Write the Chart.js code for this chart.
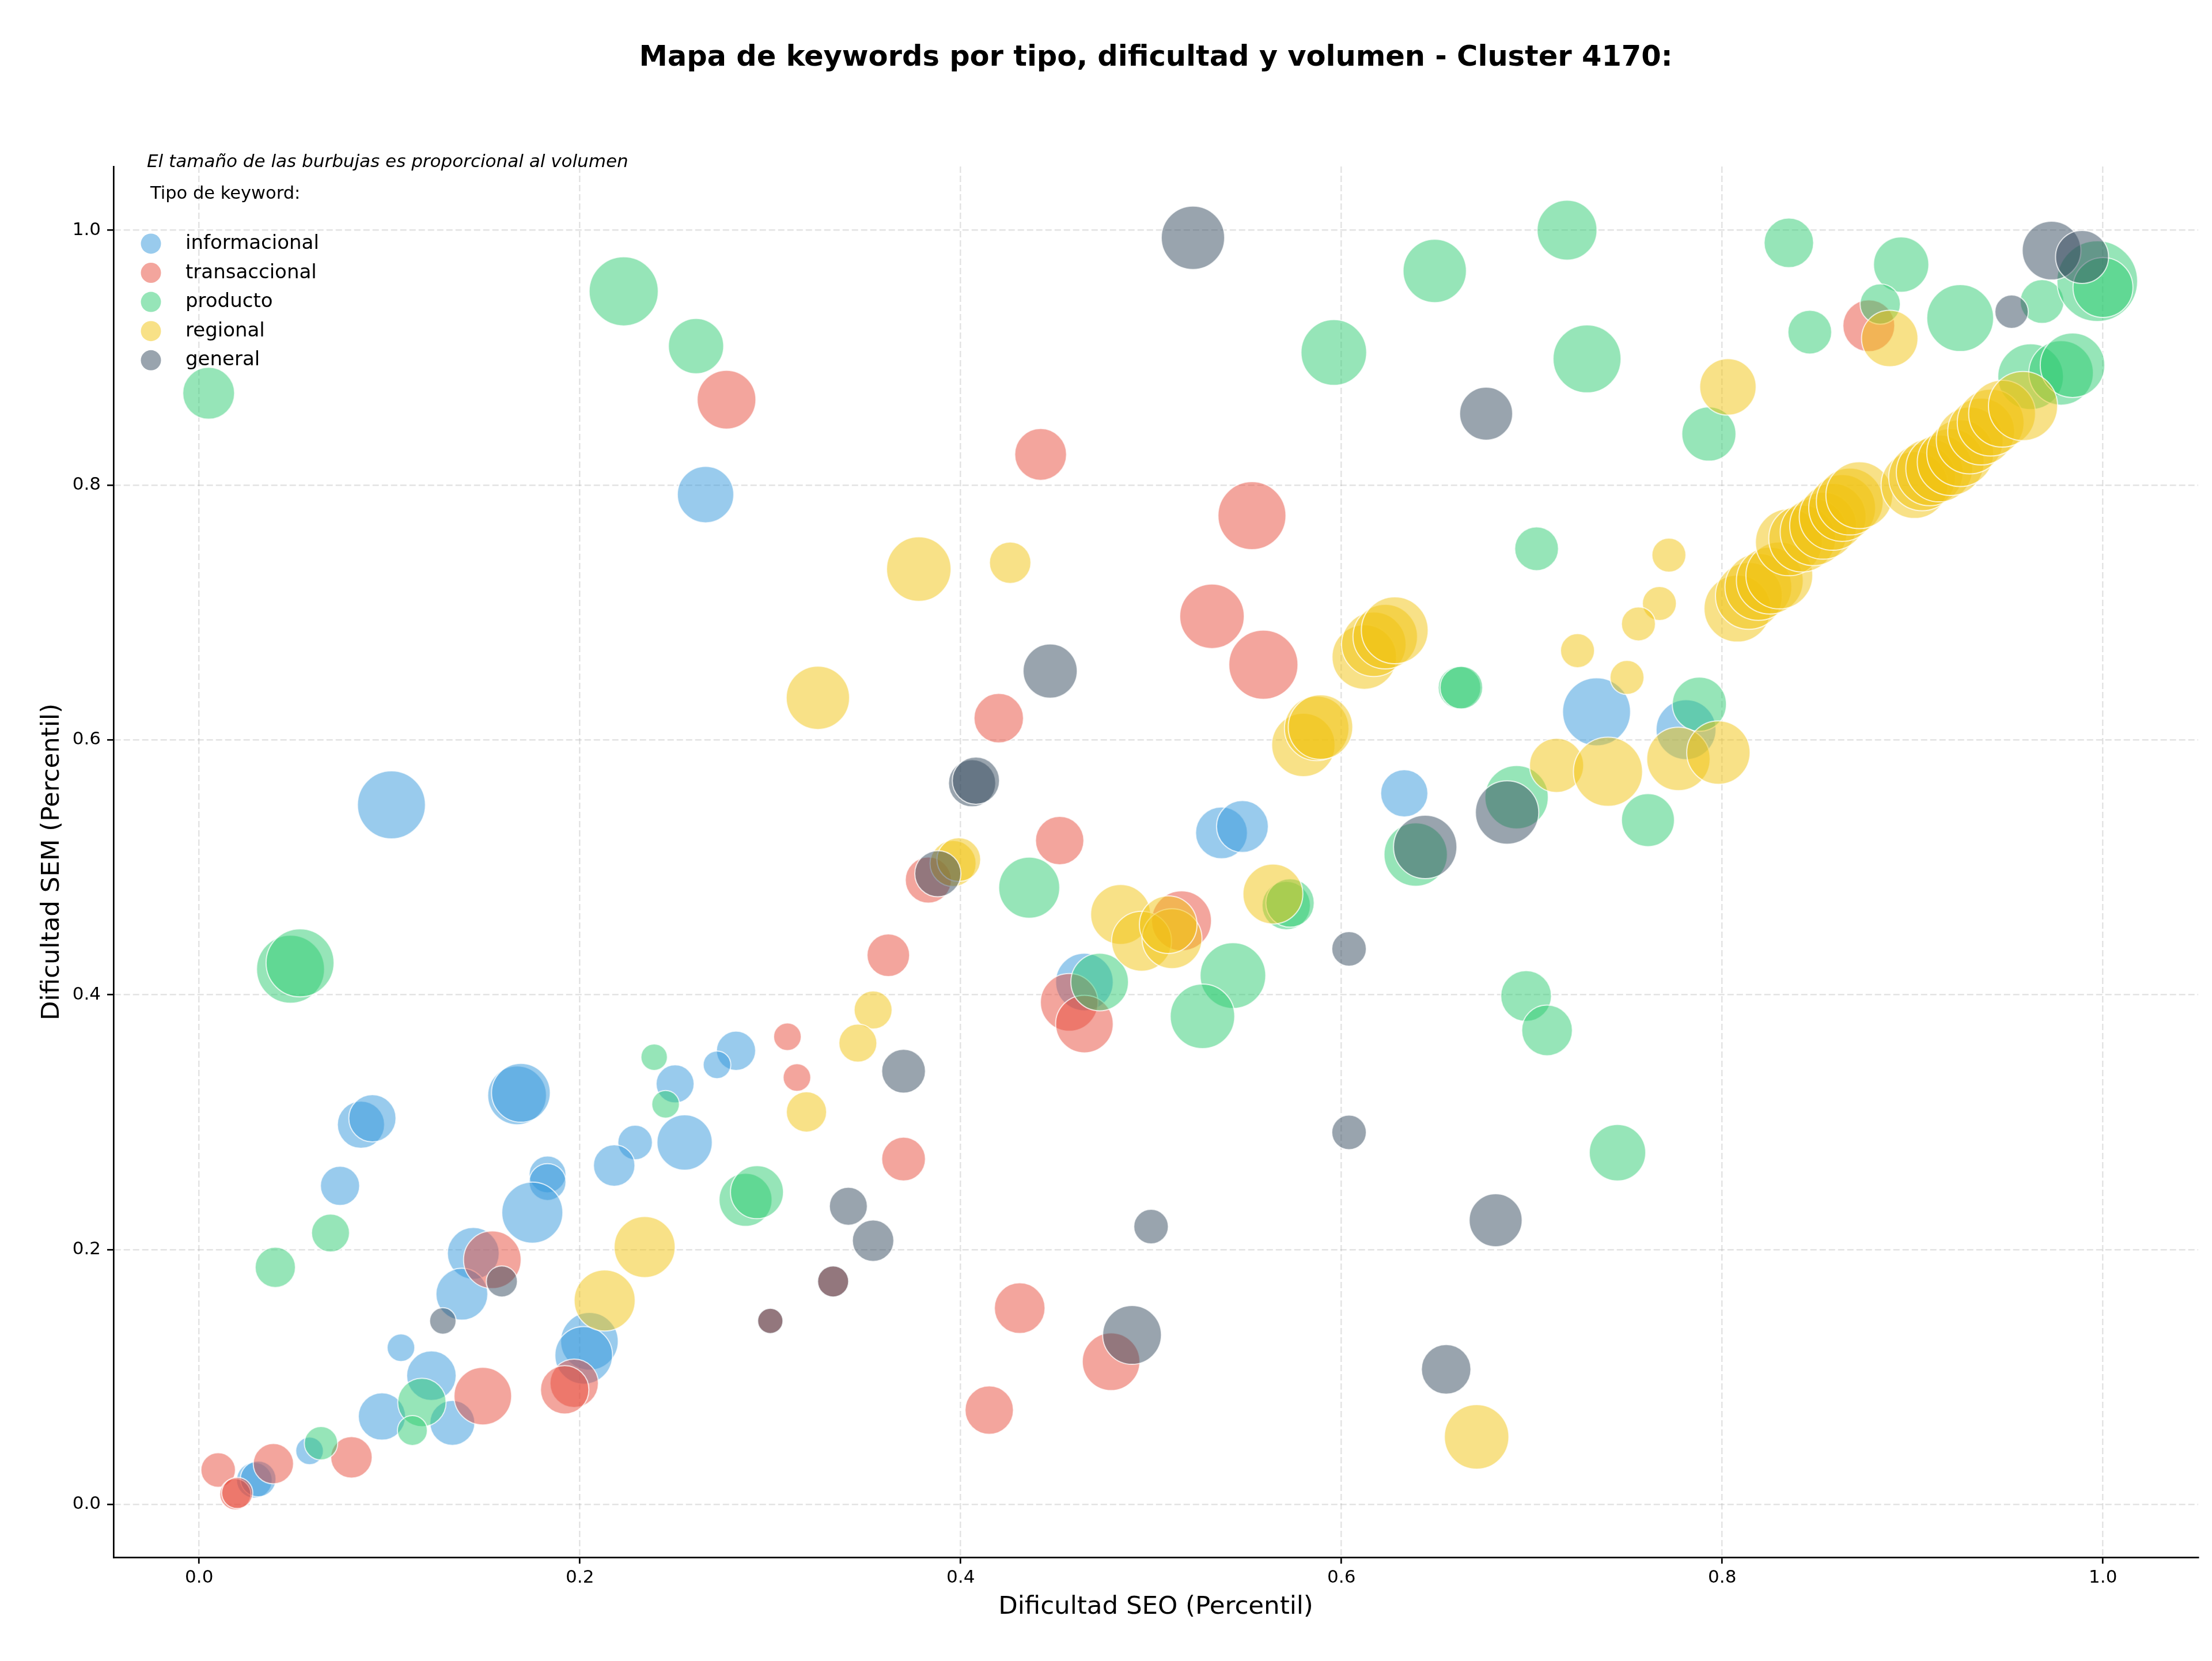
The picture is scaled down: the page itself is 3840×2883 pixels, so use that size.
<!DOCTYPE html>
<html>
<head>
<meta charset="utf-8">
<title>Mapa de keywords - Cluster 4170</title>
<script src="https://cdn.jsdelivr.net/npm/chart.js@4.4.0/dist/chart.umd.min.js"></script>
<style>
  body { margin: 0; background: #fff; }
  #wrap { width: 3840px; height: 2883px; }
</style>
</head>
<body>
<div id="wrap"><canvas id="mapa" width="3840" height="2883"></canvas></div>
<script>
// --- datos ---
const tipos = ['informacional', 'transaccional', 'producto', 'regional', 'general'];
const colores = ['52,152,219', '231,76,60', '46,204,113', '241,196,15', '52,73,94'];
const xTicks = [0.0, 0.2, 0.4, 0.6, 0.8, 1.0];
const yTicks = [0.0, 0.2, 0.4, 0.6, 0.8, 1.0];

const infoSEO = [0.101, 0.266, 0.167, 0.169, 0.085, 0.091, 0.074, 0.282, 0.272, 0.250, 0.229, 0.218, 0.255, 0.183, 0.183, 0.175, 0.144, 0.138, 0.106, 0.205, 0.202, 0.122, 0.133, 0.096, 0.058, 0.029, 0.031, 0.465, 0.537, 0.548, 0.633, 0.734, 0.781];
const infoSEM = [0.549, 0.7925, 0.321, 0.323, 0.298, 0.303, 0.250, 0.356, 0.345, 0.330, 0.284, 0.266, 0.284, 0.259, 0.253, 0.229, 0.197, 0.165, 0.123, 0.128, 0.117, 0.101, 0.064, 0.069, 0.042, 0.019, 0.020, 0.410, 0.527, 0.532, 0.558, 0.622, 0.608];
const infoVol = [870, 600, 650, 650, 420, 420, 290, 290, 144, 272, 225, 324, 576, 256, 256, 702, 506, 506, 144, 625, 625, 462, 380, 420, 144, 240, 240, 625, 506, 506, 420, 870, 676];

const transSEO = [0.277, 0.442, 0.553, 0.532, 0.559, 0.420, 0.452, 0.383, 0.362, 0.309, 0.314, 0.370, 0.333, 0.300, 0.154, 0.149, 0.197, 0.192, 0.080, 0.039, 0.010, 0.019, 0.020, 0.516, 0.457, 0.465, 0.431, 0.479, 0.415, 0.877];
const transSEM = [0.867, 0.824, 0.776, 0.697, 0.659, 0.617, 0.521, 0.490, 0.431, 0.367, 0.335, 0.271, 0.175, 0.144, 0.192, 0.085, 0.095, 0.090, 0.037, 0.032, 0.027, 0.008, 0.009, 0.458, 0.394, 0.377, 0.154, 0.112, 0.074, 0.925];
const transVol = [650, 506, 870, 784, 900, 462, 441, 400, 342, 144, 144, 361, 182, 121, 625, 625, 441, 441, 324, 306, 225, 182, 182, 676, 625, 625, 484, 625, 441, 506];

const prodSEO = [0.005, 0.223, 0.261, 0.596, 0.649, 0.7185, 0.729, 0.7025, 0.662, 0.663, 0.048, 0.053, 0.239, 0.245, 0.287, 0.293, 0.069, 0.040, 0.117, 0.112, 0.064, 0.436, 0.473, 0.543, 0.527, 0.571, 0.573, 0.639, 0.692, 0.761, 0.697, 0.708, 0.745, 0.788, 0.793, 0.835, 0.894, 0.883, 0.846, 0.925, 0.968, 0.997, 1.000, 0.962, 0.978, 0.984];
const prodSEM = [0.872, 0.952, 0.909, 0.904, 0.968, 1.000, 0.899, 0.750, 0.641, 0.641, 0.420, 0.425, 0.351, 0.314, 0.239, 0.245, 0.213, 0.186, 0.080, 0.058, 0.048, 0.484, 0.410, 0.415, 0.383, 0.470, 0.472, 0.510, 0.555, 0.537, 0.399, 0.372, 0.276, 0.628, 0.840, 0.990, 0.973, 0.942, 0.920, 0.931, 0.944, 0.960, 0.955, 0.885, 0.888, 0.894];
const prodVol = [506, 900, 576, 812, 756, 676, 870, 361, 342, 342, 870, 870, 132, 144, 529, 529, 272, 306, 441, 169, 210, 702, 625, 812, 784, 441, 441, 756, 756, 529, 484, 484, 600, 552, 552, 462, 576, 306, 361, 841, 361, 1225, 676, 812, 784, 784];

const regSEO = [0.378, 0.426, 0.325, 0.396, 0.399, 0.354, 0.346, 0.319, 0.234, 0.213, 0.484, 0.495, 0.511, 0.509, 0.564, 0.612, 0.617, 0.623, 0.628, 0.580, 0.587, 0.589, 0.671, 0.772, 0.767, 0.756, 0.724, 0.750, 0.713, 0.740, 0.777, 0.798, 0.803, 0.888,
  0.808, 0.814, 0.819, 0.825, 0.830, 0.835, 0.842, 0.848, 0.853, 0.858, 0.863, 0.867, 0.872, 0.901, 0.905, 0.909, 0.914, 0.920, 0.925, 0.930, 0.936, 0.941, 0.947, 0.958];
const regSEM = [0.734, 0.739, 0.633, 0.503, 0.506, 0.388, 0.362, 0.308, 0.202, 0.160, 0.463, 0.442, 0.444, 0.455, 0.479, 0.665, 0.675, 0.681, 0.686, 0.596, 0.609, 0.610, 0.053, 0.745, 0.707, 0.691, 0.670, 0.649, 0.580, 0.575, 0.585, 0.590, 0.877, 0.915,
  0.703, 0.713, 0.720, 0.725, 0.729, 0.755, 0.758, 0.763, 0.768, 0.775, 0.782, 0.787, 0.792, 0.800, 0.806, 0.810, 0.813, 0.818, 0.825, 0.835, 0.842, 0.849, 0.856, 0.862];
const regVol = [784, 324, 756, 400, 361, 272, 272, 306, 702, 702, 676, 676, 676, 625, 676, 784, 784, 784, 841, 756, 784, 784, 784, 218, 218, 218, 218, 218, 552, 900, 756, 756, 600, 600,
  841, 841, 841, 841, 841, 841, 841, 841, 841, 841, 841, 841, 841, 841, 841, 841, 841, 841, 841, 841, 841, 841, 841, 900];

const genSEO = [0.522, 0.676, 0.447, 0.406, 0.408, 0.388, 0.370, 0.341, 0.354, 0.333, 0.300, 0.159, 0.128, 0.490, 0.500, 0.604, 0.604, 0.644, 0.687, 0.681, 0.655, 0.952, 0.973, 0.989];
const genSEM = [0.994, 0.856, 0.654, 0.566, 0.568, 0.495, 0.340, 0.234, 0.207, 0.175, 0.144, 0.175, 0.144, 0.133, 0.218, 0.436, 0.292, 0.516, 0.543, 0.223, 0.106, 0.936, 0.984, 0.979];
const genVol = [756, 529, 552, 420, 420, 400, 361, 272, 324, 182, 121, 182, 132, 650, 225, 225, 225, 756, 756, 529, 462, 210, 650, 529];

const titulo = 'Mapa de keywords por tipo, dificultad y volumen - Cluster 4170:';
const nota = 'El tamaño de las burbujas es proporcional al volumen';
const tituloLeyenda = 'Tipo de keyword:';

// tamaño de burbuja proporcional al volumen
function radio(vol) { return 2 * Math.sqrt(vol); }

function puntos(xs, ys, vols) {
  return xs.map((x, i) => ({ x: x, y: ys[i], r: radio(vols[i]) }));
}

const series = [
  puntos(infoSEO, infoSEM, infoVol),
  puntos(transSEO, transSEM, transVol),
  puntos(prodSEO, prodSEM, prodVol),
  puntos(regSEO, regSEM, regVol),
  puntos(genSEO, genSEM, genVol)
];

const fuente = 'DejaVu Sans';
Chart.defaults.font.family = fuente;
Chart.defaults.color = '#000';

// leyenda y nota dibujadas dentro del area del grafico, arriba a la izquierda
const leyendaPlugin = {
  id: 'leyenda',
  afterDatasetsDraw(chart) {
    const ctx = chart.ctx;
    const area = chart.chartArea;
    ctx.save();
    ctx.textAlign = 'left';
    ctx.textBaseline = 'alphabetic';
    ctx.fillStyle = '#000';
    ctx.font = 'italic 31px "' + fuente + '"';
    ctx.fillText(nota, area.left + 58, area.top + 1);
    ctx.font = '30.5px "' + fuente + '"';
    ctx.fillText(tituloLeyenda, area.left + 64, area.top + 56);
    tipos.forEach((t, i) => {
      const y = area.top + 134 + i * 50.6;
      ctx.beginPath();
      ctx.arc(area.left + 65, y, 17.5, 0, Math.PI * 2);
      ctx.fillStyle = 'rgba(' + colores[i] + ',0.5)';
      ctx.fill();
      ctx.fillStyle = '#000';
      ctx.font = '34px "' + fuente + '"';
      ctx.fillText(t, area.left + 125, y + 9);
    });
    ctx.restore();
  }
};

const cuadricula = {
  color: 'rgba(176,176,176,0.35)',
  lineWidth: 2.5,
  tickColor: '#000',
  tickWidth: 2.7,
  tickLength: 11,
  tickBorderDash: []
};

new Chart(document.getElementById('mapa'), {
  type: 'bubble',
  data: {
    datasets: tipos.map((t, i) => ({
      label: t,
      data: series[i],
      order: tipos.length - i,
      backgroundColor: 'rgba(' + colores[i] + ',0.5)',
      borderColor: 'rgba(255,255,255,0.75)',
      borderWidth: 2
    }))
  },
  options: {
    responsive: false,
    devicePixelRatio: 1,
    animation: false,
    events: [],
    layout: {
      autoPadding: false,
      padding: { left: 40, right: 24, top: 0, bottom: 30 }
    },
    plugins: {
      legend: { display: false },
      tooltip: { enabled: false },
      title: {
        display: true,
        fullSize: false,
        text: titulo,
        color: '#000',
        font: { size: 49.5, weight: 'bold' },
        padding: { top: 71, bottom: 158.5 }
      }
    },
    scales: {
      x: {
        type: 'linear',
        min: -0.045,
        max: 1.05,
        afterBuildTicks: (s) => { s.ticks = xTicks.map(v => ({ value: v })); },
        afterFit: (s) => { s.height = 150; },
        ticks: {
          font: { size: 31 },
          padding: 6,
          callback: (v) => Number(v).toFixed(1)
        },
        grid: cuadricula,
        border: { display: true, color: '#000', width: 2.7, dash: [11, 5] },
        title: {
          display: true,
          text: 'Dificultad SEO (Percentil)',
          font: { size: 43.5 },
          padding: { top: 0, bottom: 37 }
        }
      },
      y: {
        type: 'linear',
        min: -0.0415,
        max: 1.05,
        afterBuildTicks: (s) => { s.ticks = yTicks.map(v => ({ value: v })); },
        afterFit: (s) => { s.width = 157; },
        ticks: {
          font: { size: 31 },
          padding: 11,
          callback: (v) => Number(v).toFixed(1)
        },
        grid: cuadricula,
        border: { display: true, color: '#000', width: 2.7, dash: [11, 5] },
        title: {
          display: true,
          text: 'Dificultad SEM (Percentil)',
          font: { size: 43.5 },
          padding: { top: 25, bottom: 0 }
        }
      }
    }
  },
  plugins: [leyendaPlugin]
});
</script>
</body>
</html>
